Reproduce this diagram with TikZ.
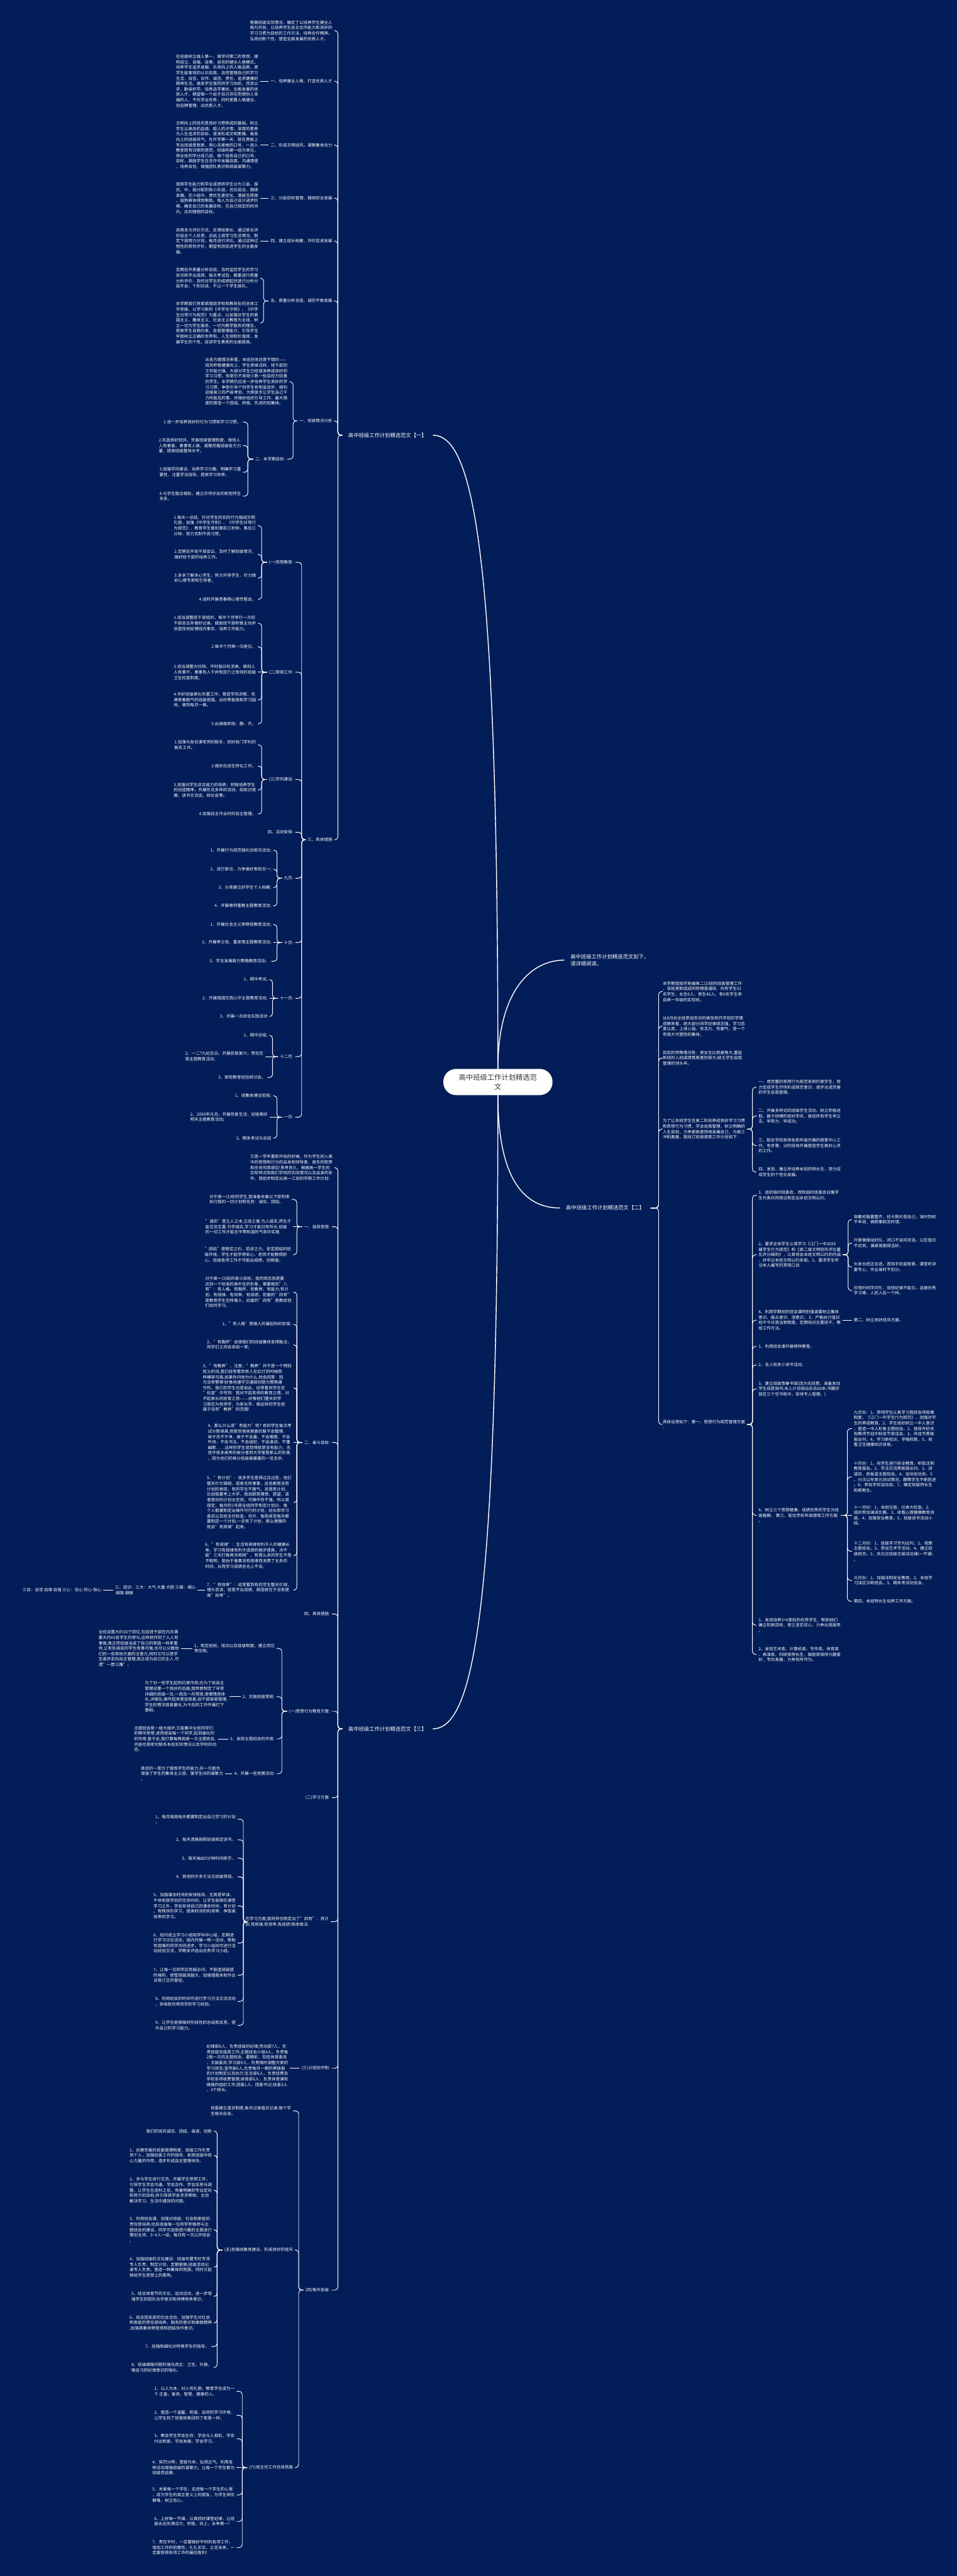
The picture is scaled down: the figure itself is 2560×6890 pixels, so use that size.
\documentclass[tikz,border=0pt]{standalone}
\usepackage{fontspec}
\setmainfont{Noto Sans CJK SC}
\definecolor{bgc}{HTML}{031D58}
\definecolor{rootink}{HTML}{333333}
\tikzset{
  txt/.style={font=\fontsize{11}{14.5}\selectfont, text=white, align=left, inner xsep=5pt, inner ysep=0pt},
  ltxt/.style={txt, anchor=east},
  rtxt/.style={txt, anchor=west},
  brl/.style={font=\fontsize{14}{19}\selectfont, text=white, align=left, inner xsep=16pt, inner ysep=0pt},
  rootbox/.style={fill=white, rounded corners=34pt, minimum width=292pt, minimum height=70pt, inner sep=0pt,
    font=\fontsize{19}{25}\selectfont, text=rootink, align=center},
  conn/.style={draw=white, line width=1.6pt, rounded corners=8pt},
  mainln/.style={draw=white, line width=2.4pt},
}
\newcommand\linkL[3]{\draw[conn] (#1.west) -- (#1.west -| #3) |- (#2.east);}
\newcommand\linkR[3]{\draw[conn] (#1.east) -- (#1.east -| #3) |- (#2.west);}
\newcommand\lineL[2]{\draw[conn] (#1.west) -- (#2.east);}
\newcommand\lineR[2]{\draw[conn] (#1.east) -- (#2.west);}
\begin{document}
\begin{tikzpicture}[x=1pt,y=-1pt]
\fill[bgc] (0,0) rectangle (2560,6890);
\useasboundingbox (0,0) rectangle (2560,6890);

% bracket x positions
\coordinate (kL1) at (904,0);
\coordinate (kA6) at (705,0);
\coordinate (kA7) at (784,0);
\coordinate (kC2) at (663,0);
\coordinate (kA8) at (807,0);
\coordinate (kE1) at (700,0);
\coordinate (kE5) at (741,0);
\coordinate (kE7) at (729,0);
\coordinate (kL3) at (904,0);
\coordinate (kN2) at (794,0);
\coordinate (kN5) at (754,0);
\coordinate (kN7) at (651,0);
\coordinate (kN9) at (799,0);
\coordinate (kV2) at (581,0);
\coordinate (kV3) at (648,0);
\coordinate (kR2) at (1762,0);
\coordinate (kY4) at (2013,0);
\coordinate (kAA2) at (2269,0);
\coordinate (kAA7) at (2267,0);

% root and main branches
\node[rootbox] (root) at (1332,2894) {高中班级工作计划精选范\\文};
\node[brl, anchor=east] (L1) at (1158,1164) {高中班级工作计划精选范文【一】};
\node[brl, anchor=east] (L3) at (1158,4624) {高中班级工作计划精选范文【三】};
\node[brl, anchor=west] (R1) at (1510,2568) {高中班级工作计划精选范文如下，\\请详细阅读。};
\node[brl, anchor=west] (R2) at (1498,3231) {高中班级工作计划精选范文【二】};
\draw[mainln] (L1.east) .. controls (1270,1164) and (1332,1500) .. (root.north);
\draw[mainln] (L3.east) .. controls (1270,4624) and (1332,4290) .. (root.south);
\draw[mainln] (root.north) .. controls (1332,2650) and (1420,2568) .. (R1.west);
\draw[mainln] (root.south) .. controls (1332,3150) and (1400,3231) .. (R2.west);

% ===== branch one =====
\node[ltxt] (a1) at (894,82) {根据班级实际情况，确定了以培养学生健全人\\格为宗旨，以培养学生自主合作能力和良好的\\学习习惯为目标的工作方法，培养合作精神，\\弘扬创新个性，塑造全面发展的优质人才。};
\node[ltxt] (a2) at (894,217) {一、培养健全人格，打造优质人才};
\node[ltxt] (a3) at (894,388) {二、形成文明班风，凝聚集体合力};
\node[ltxt] (a4) at (894,530) {三、分层目标管理，捆绑综合发展};
\node[ltxt] (a5) at (894,645) {四、建立成长档案，评价促进发展};
\node[ltxt] (a6) at (894,805) {五、质量分析总结，调控平衡发展};
\node[ltxt] (a7) at (894,1126) {一、班级情况分析};
\node[ltxt] (a8) at (894,2246) {三、具体措施};
\foreach \c in {a1,a2,a3,a4,a5,a6,a7,a8}{\linkL{L1}{\c}{kL1}}

\node[ltxt] (b2) at (696,217) {在班级树立做人第一，做学问第二的思想，建\\构自立、自强、自尊、自信的健全人格模式，\\培养学生追求卓越、乐观向上的人格品质，使\\学生能客观的认识自我，自觉管理自己的学习\\生活，自信、合作、诚信、责任，追求健康的\\精神生活。激发学生强烈的学习动机，孜孜以\\求，勤奋好学，培养品学兼优、全面发展的优\\质人才。期望做一个由于自己存在而使别人幸\\福的人，不仅学业优秀，同时更要人格健全。\\创品牌管理，出优质人才。};
\node[ltxt] (b3) at (696,388) {文明向上的班风是良好习惯养成的基础。树立\\学生以高尚的品德、超人的才情，深厚的素养\\为人生追求的目标，逐渐形成文明素雅、奋发\\向上的班级风气。在开学第一天，就在黑板上\\写出班级是我家，用心去爱她的口号，一进入\\教室就有归家的感觉。班级构建一组为单位，\\将全班同学分成几组，每个组有自己的口号、\\目标，鼓励学生在合作中发展自我，沟通情感\\，培养自信，增强团队意识和班级凝聚力。};
\node[ltxt] (b4) at (696,530) {按照学生能力和学业成绩将学生分为三层，按\\优、中、弱分配到各小队组，优化组合，捆绑\\发展。在小组中，使优生更优化，潜能生提高\\，弱势群体得到帮助。每人为自己设计进步阶\\梯，确定自己的发展目标，在自己规定的时间\\内，达到理想的目标。};
\node[ltxt] (b5) at (696,645) {采用多元评价方式，反馈给家长，通过家长评\\价结合个人反思，总结上周学习生活情况，制\\定下周努力计划，每月进行评比。通过这种过\\程性的质性评价，期望有效促进学生的全面发\\展。};
\node[ltxt] (b6a) at (696,744) {定期召开质量分析总结，及时监控学生的学习\\状况和学业成绩。每次考试后，都要进行质量\\分析评价，及时对学生的成绩起伏进行分析分\\层开会，个别访谈，不让一个学生掉队。};
\node[ltxt] (b6b) at (696,864) {本学期我们将紧紧围绕学校和教导处的总体工\\作思路，以学习新的《中学生守则》、《中学\\生日常行为规范》为重点，以加强对学生的爱\\国主义、集体主义、社会主义教育为主线，树\\立一切为学生服务，一切为教学服务的理念，\\提高学生自我约束，自我管理能力，引导学生\\牢固树立正确的世界观、人生观和价值观，发\\展学生的个性，促进学生素质的全面提高。};
\lineL{a2}{b2}
\lineL{a3}{b3}
\lineL{a4}{b4}
\lineL{a5}{b5}
\linkL{a6}{b6a}{kA6}
\linkL{a6}{b6b}{kA6}

\node[ltxt] (c1) at (774,1021) {从各方面情况来看，本班总体还是不错的——\\班风积极健康向上，学生思维活跃，班干部的\\工作能力强，大部分学生已经逐渐养成良好的\\学习习惯，但是仍不排除少数一些自控力较差\\的学生。本学期仍应进一步培养学生良好的学\\习习惯，争取引导个别学生有明显进步，顺利\\迎接高三的严峻考验。大胆放手让学生自己干\\力所能及的事，并做好组织引导工作，最大限\\度的营造一个团结、积极、先进的班集体。};
\node[ltxt] (c2) at (768,1228) {二、本学期目标:};
\linkL{a7}{c1}{kA7}
\linkL{a7}{c2}{kA7}
\node[ltxt] (d1) at (650,1129) {1.进一步培养良好的行为习惯和学习习惯。};
\node[ltxt] (d2) at (650,1192) {2.巩固良好班风，完善班级管理制度，做到人\\人有事做，事事有人做，凝聚挖掘班级各方力\\量，提高班级整体水平。};
\node[ltxt] (d3) at (650,1263) {3.加强学风建设，培养学习兴趣，明确学习重\\要性，注重学法指导，提高学习效率。};
\node[ltxt] (d4) at (650,1327) {4.与学生融洽相处，建立亦师亦友的新型师生\\关系。};
\foreach \c in {d1,d2,d3,d4}{\linkL{c2}{\c}{kC2}}

\node[ltxt] (e1) at (790,1504) {(一)思想教育:};
\node[ltxt] (e2) at (790,1798) {(二)常规工作:};
\node[ltxt] (e3) at (790,2085) {(三)学风建设:};
\node[ltxt] (e4) at (790,2226) {四、活动安排:};
\node[ltxt] (e5) at (790,2349) {九月:};
\node[ltxt] (e6) at (790,2521) {十月:};
\node[ltxt] (e7) at (790,2670) {十一月:};
\node[ltxt] (e8) at (790,2826) {十二月:};
\node[ltxt] (e9) at (790,2988) {一月:};
\foreach \c in {e1,e2,e3,e4,e5,e6,e7,e8,e9}{\linkL{a8}{\c}{kA8}}

\node[ltxt] (f1) at (690,1406) {1.每天一总结，针对学生的实际行为强调文明\\礼貌，加强《中学生守则》、《中学生日常行\\为规范》，教育学生做到事前三秒钟，事后三\\分钟，努力克制不良习惯。};
\node[ltxt] (f2) at (690,1483) {2.定期召开班干部会议，及时了解班级情况，\\做好班干部的培养工作。};
\node[ltxt] (f3) at (690,1546) {3.多多了解关心学生，努力开导学生，尽力做\\好心理专家和引导者。};
\node[ltxt] (f4) at (690,1603) {4.适时开展青春期心理专题会。};
\foreach \c in {f1,f2,f3,f4}{\linkL{e1}{\c}{kE1}}
\node[ltxt] (g1) at (690,1667) {1.适当调整班干部组织，每半个月举行一次班\\干部会议并做好记录。鼓励班干部积极主动并\\创造性地处理班内事务，培养工作能力。};
\node[ltxt] (g2) at (690,1730) {2.每半个月换一次座位。};
\node[ltxt] (g3) at (690,1798) {3.适当调整大扫除、平时值日轮流表，做到人\\人有事干，事事有人干并制定行之有效的班级\\卫生检查制度。};
\node[ltxt] (g4) at (690,1872) {4.作好班级美化布置工作，营造学风浓郁，充\\满青春朝气的班级氛围。出好黑板报和学习园\\地，做到每月一换。};
\node[ltxt] (g5) at (690,1936) {5.出操做到快、静、齐。};
\foreach \c in {g1,g2,g4,g5}{\linkL{e2}{\c}{kE1}}
\lineL{e2}{g3}
\node[ltxt] (h1) at (690,1992) {1.加强与各任课老师的联系，抓好各门学科的\\联系工作。};
\node[ltxt] (h2) at (690,2049) {2.做好后进生转化工作。};
\node[ltxt] (h3) at (690,2113) {3.加强对学生综合能力的培养，积极培养学生\\的创造精神，开展形式多样的活动，如知识竞\\赛、读书交流会、辩论会等。};
\node[ltxt] (h4) at (690,2177) {4.加强自主作业时的自主管理。};
\foreach \c in {h1,h2,h3,h4}{\linkL{e3}{\c}{kE1}}

\node[ltxt] (i1) at (731,2274) {1、开展行为规范强化训练月活动;};
\node[ltxt] (i2) at (731,2325) {2、进行家访，力争做好家校合一;};
\node[ltxt] (i3) at (731,2374) {3、分类建立好学生个人档案;};
\node[ltxt] (i4) at (731,2423) {4、开展尊师重教主题教育活动;};
\foreach \c in {i1,i2,i3,i4}{\linkL{e5}{\c}{kE5}}
\node[ltxt] (j1) at (731,2473) {1、开展社会主义荣辱观教育活动;};
\node[ltxt] (j2) at (731,2521) {2、开展孝父母、重亲情主题教育活动;};
\node[ltxt] (j3) at (726,2571) {3、学生发展毅力策略教育活动。};
\linkL{e6}{j1}{kE5}
\lineL{e6}{j2}
\linkL{e6}{j3}{kE5}
\node[ltxt] (k1) at (721,2620) {1、期中考试;};
\node[ltxt] (k2) at (721,2670) {2、开展祖国在我心中主题教育活动;};
\node[ltxt] (k3) at (721,2719) {3、开展一次综合实践活动};
\linkL{e7}{k1}{kE7}
\lineL{e7}{k2}
\linkL{e7}{k3}{kE7}
\node[ltxt] (l1) at (721,2769) {1、期中总结;};
\node[ltxt] (l2) at (710,2826) {2、一二?九纪念日，开展民族复兴，责任在\\我主题教育活动;};
\node[ltxt] (l3) at (716,2882) {3、家校教育经验研讨会。};
\linkL{e8}{l1}{kE7}
\lineL{e8}{l2}
\linkL{e8}{l3}{kE7}
\node[ltxt] (m1) at (731,2931) {1、班集体建设验收;};
\node[ltxt] (m2) at (721,2988) {2、20XX年元旦，开展热爱生活，迎接美好\\明天主题教育活动;};
\node[ltxt] (m3) at (731,3044) {3、期末考试与总结};
\linkL{e9}{m1}{kE5}
\lineL{e9}{m2}
\linkL{e9}{m3}{kE5}

% ===== branch three =====
\node[ltxt] (n1) at (895,3123) {又是一学年重新开始的时候，作为学生初入高\\中的思想和行为的启发和领导者，肩负的职责\\和任务何其艰巨!思考良久，根据高一学生的\\实际特点和我们学校的实际情况以及自身的条\\件，我初步制定出高一三班的学期工作计划：};
\node[ltxt] (n2) at (888,3281) {一、指导思想:};
\node[ltxt] (n3) at (888,3858) {二、奋斗目标:};
\node[ltxt] (n4) at (888,4317) {四、具体措施:};
\node[ltxt] (n5) at (888,4577) {(一)思想行为教育方面:};
\node[ltxt] (n6) at (888,4808) {(二)学习方面:};
\node[ltxt] (n7) at (885,5140) {在学习方面,我同样也制定出了"四有"：有计\\划,有规律,有效率,有成绩!具体做法:};
\node[ltxt] (n8) at (888,5532) {(三)分组协作制:};
\node[ltxt] (n9) at (888,6125) {(四)每天自省:};
\foreach \c in {n1,n2,n3,n4,n5,n6,n7,n8,n9}{\linkL{L3}{\c}{kL3}}

\node[ltxt] (o1) at (780,3208) {对于高一(3)班的学生,我准备本着以下原则来\\执行我的一切计划和任务：诚实、团结。};
\node[ltxt] (o2) at (784,3281) {"诚实"是立人之本,立班之基.为人诚实,师生才\\能互信互重.为学诚实,学习才能日有所长.班级\\的一切工作才能在平等和谐的气氛中实施.};
\node[ltxt] (o3) at (784,3356) {"团结"是稳定之石，前进之力。安定团结的班\\级环境，学生才能学得安心，老师才能教得舒\\心，班级各项工作才可能出成绩，创辉煌。};
\linkL{n2}{o1}{kN2}
\lineL{n2}{o2}
\linkL{n2}{o3}{kN2}

\node[ltxt] (p0) at (785,3456) {对于高一(3)班的奋斗目标，我的观念就是要\\达到一个标准的高中生的形象，需要做到"八\\有"：有人格、有胸怀、有教养、有能力;有计\\划、有规律、有效率、有成绩。前面的"四有"\\是教育学生怎样做人，后面的"四有"是教给他\\们如何学习。};
\node[ltxt] (p1) at (785,3542) {1、"有人格"是做人的最起码的标准;};
\node[ltxt] (p2) at (785,3597) {2、"有胸怀"会使我们的班级集体变得融洽，\\同学们之间会亲如一家;};
\node[ltxt] (p3) at (785,3712) {3、"有教养"，注意，"教养"并不是一个特别\\贬义的词,我们经常看到有人在红灯的时候照\\样横穿马路,如果你问他为什么,他会回答：因\\为没有警察!好像他遵守交通规则是为警察遵\\守的。我们的学生也是如此，经常看到学生在\\"检查"中写到：我对不起老师的教育之情，对\\不起家长的抚育之恩-{}-{}-{}-{}-{}-好像他们整天的学\\习是在为老师学，为家长学，像这样的学生就\\属于没有"教养"的范围!};
\node[ltxt] (p4) at (785,3858) {4、那么什么是"有能力"呢? 有的学生每次考\\试分数很高,但是到宿舍里面衣服不会整理，\\袜子洗不干净，被子不会叠，不会唱歌，不会\\吟诗，不会书法，不会组织，不会演讲，不懂\\幽默……这样的学生我觉得就是没有能力，无\\怪乎很多高考的高分者到大学里是那么的失落\\，因为他们的高分低能被暴露的一览无余;};
\node[ltxt] (p5) at (785,4019) {5、"有计划"：很多学生是得过且过型，他们\\整天忙忙碌碌，或者无所事事，这些都是没有\\计划的表现，有的学生不服气，说我有计划，\\比如我要考上大学，我说那是理想、愿望，或\\者是你的计划太空洞，可操作性不强。所以我\\规定，每月的1号是全班同学制定计划日，每\\个人都要制定出操作可行的计划，班长和学习\\委员以及班主任检查。另外，每周甚至每天都\\要制定一个计划;一旦有了计划，那么慢慢的\\就会"有规律"起来。};
\node[ltxt] (p6) at (785,4161) {6、"有规律"：生活有规律有利于人的健康长\\寿、学习有规律有利于成绩的稳步提高，决不\\能"三天打鱼两天晾网"，有那么多的学生不是\\不聪明，是由于做事没有规律而浪费了太多的\\时间，从而学习成绩总也上不去;};
\node[ltxt] (p7) at (785,4253) {7、"有效率"：经常看到有的学生整天忙碌，\\埋头苦读，就是不出成绩，原因就在于没有提\\高"效率"。};
\foreach \c in {p0,p1,p2,p3,p5,p6,p7}{\linkL{n3}{\c}{kN2}}
\lineL{n3}{p4}
\node[ltxt] (q1) at (529,4253) {三、班训：三大：大气 大量 大胆 三细：细心\\~细致 细微};
\node[ltxt] (q2) at (276,4253) {三自：自觉 自律 自强 三心：信心 热心 恒心};
\lineL{p7}{q1}
\lineL{q1}{q2}

\node[ltxt] (r1) at (740,4409) {1、制定班规，班训以及班级制度，建立岗位\\责任制。};
\node[ltxt] (r2) at (740,4538) {2、实施班级常规:};
\node[ltxt] (r3) at (740,4651) {3、发挥主题班会的作用:};
\node[ltxt] (r4) at (740,4744) {4、开展一些竞赛活动:};
\foreach \c in {r1,r2,r3,r4}{\linkL{n5}{\c}{kN5}}
\node[ltxt] (s1) at (484,4409) {全班设置大约30个岗位,包括班干部在内共需\\要大约65名学生的参与,这样就作到了人人有\\事做,真正把班级当成了自己的家庭一样来看\\待,让有些调皮的学生有事可做,也可以分散他\\们的一些其他方面的注意力,同时又可以使学\\生逐步走向自主管理,真正成为自己的主人.可\\谓"一箭三雕"。};
\node[ltxt] (s2) at (614,4538) {为了对一些学生起到约束作用,也为了给自主\\管理设置一个良好的后盾,我特意制定了非常\\详细的班级一日,一周及一月常规,使事情具体\\化,详细化,操作起来更加容易,班干部容易管理,\\学生的情况容易量化,为今后的工作开展打下\\基础。};
\node[ltxt] (s3) at (584,4651) {主题班会是一座大熔炉,它能集中全班同学们\\的精华思想,进而感染每一个同学,起到催化剂\\的作用.鉴于此,我打算每两周高一次主题班会,\\内容也是密切联系本班实际情况以及学校的动\\态。};
\node[ltxt] (s4) at (602,4744) {其目的一是为了锻炼学生的能力,另一方面也\\增强了学生的集体主义感。强学生间的凝聚力\\。};
\lineL{r1}{s1}
\lineL{r2}{s2}
\lineL{r3}{s3}
\lineL{r4}{s4}

\node[ltxt] (t1) at (636,4866) {1、每月每周每天都要制定出自己学习的计划\\。};
\node[ltxt] (t2) at (636,4921) {2、每天清晨按照班级规定读书。};
\node[ltxt] (t3) at (636,4970) {3、每天抽出5分钟时间练字。};
\node[ltxt] (t4) at (636,5020) {4、其他的许多方法见班级常规。};
\node[ltxt] (t5) at (636,5098) {5、加强课余时间的安排指导，尤其是早读、\\午休和放学后的空余时间，让学生能够在课堂\\学习之外，学会安排自己的课余时间，有计划\\、有秩序的学习，提高时间的利用率，争取高\\效率的学习。};
\node[ltxt] (t6) at (636,5197) {6、班内成立学习小组和学科中心组，定期进\\行学习讨论活动，组内开展一帮一活动，帮助\\有困难的同学共同进步，学习小组间可进行活\\动经验交流，学期末评选出优秀学习小组。};
\node[ltxt] (t7) at (636,5283) {7、让每一位同学应有疑必问，不能造成疑惑\\的堆积，使雪球越滚越大，加强错题本和作业\\试卷订正的督促。};
\node[ltxt] (t8) at (636,5353) {8、利用班会的时间可进行学习方法交流活动\\，多吸取优秀同学的学习经验。};
\node[ltxt] (t9) at (636,5417) {9、让学生能够做好阶段性的总结和反思，提\\升自己的学习能力。};
\foreach \c in {t1,t2,t3,t4,t5,t6,t7,t8,t9}{\linkL{n7}{\c}{kN7}}

\node[ltxt] (u1) at (776,5532) {纪律部8人，负责班级的纪律;劳动部7人，负\\责班级及值周工作;主题班会小组4人，负责每\\2周一次的主题班会，要精彩，包括体育委员\\，文娱委员;学习部9人，负责随时调整大家的\\学习状态;宣传部6人,负责每月一期的黑板报\\的计划制定以及执行;生活部6人，负责班费及\\学校各项收费管理;体育部6人，负责体育课和\\做操的组织工作;团委1人，团委书记;班委3人\\，3个班长。};
\lineL{n8}{u1}

\node[ltxt] (v1) at (784,5646) {班委建立值日制度,每天记录值日记录,每个学\\生每天自省。};
\node[ltxt] (v2) at (789,6018) {(五)加强班集体建设，形成良好的班风};
\node[ltxt] (v3) at (789,6600) {(六)班主任工作总体思路};
\foreach \c in {v1,v2,v3}{\linkL{n9}{\c}{kN9}}

\node[ltxt] (w0) at (572,5700) {我们的班风诚信、团结、奋进、创新};
\node[ltxt] (w1) at (572,5765) {1、创建完善的班委管理制度，班级工作负责\\到个人，加强班委工作的指导，发挥班级中核\\心力量的作用，逐步形成自主管理体系。};
\node[ltxt] (w2) at (572,5858) {2、多与学生进行交流，开展学生思想工作，\\引导学生学会沟通、学会合作、学会反思与调\\整，让学生在选科之后，有着明确的专业定向\\和努力的目标;并引导其学会寻求帮助，主动\\解决学习、生活中遇到的问题。};
\node[ltxt] (w3) at (572,5964) {3、利用班会课，加强对班级、社会和家庭的\\责任感培养;动员班级每一位同学积极参与主\\题班会的建设，同学可选取感兴趣的主题进行\\策划主持，3\textasciitilde 4人一组，每月有一次公开班会\\。};
\node[ltxt] (w4) at (572,6064) {4、加强班级的文化建设：班级布置专栏专项\\专人负责，制定计划，定期更换;班级活动记\\录专人负责。营造一种集体的氛围，同时又能\\够给学生思想上的熏陶。};
\node[ltxt] (w5) at (572,6142) {5、结合体育节的文化、运动活动，进一步增\\强学生的团队合作意识和拼搏竞争意识。};
\node[ltxt] (w6) at (572,6213) {6、结合团支部的社会活动，加强学生对社会\\和家庭的责任感培养，服务的意识和奉献精神\\;加强其集体荣誉感和团结协作意识。};
\node[ltxt] (w7) at (565,6276) {7、加强和细化对特殊学生的指导。};
\node[ltxt] (w8) at (572,6332) {8、班级细微问题的强化改正：卫生、升旗、\\晚自习的纪律意识的强化。};
\foreach \c in {w0,w1,w2,w3,w4,w5,w6,w7,w8}{\linkL{v2}{\c}{kV2}}

\node[ltxt] (x1) at (633,6396) {1、以人为本，对人有礼貌，教育学生成为一\\个 正直，善良，智慧，健康的人。};
\node[ltxt] (x2) at (633,6460) {2、营造一个温馨，和谐，自然的学习环境，\\让学生到了班里就象回到了家里一样。};
\node[ltxt] (x3) at (633,6523) {3、教会学生学会生存，学会与人相处，学会\\付出和爱。学会发展，学会学习。};
\node[ltxt] (x4) at (633,6600) {4、奖罚分明，宽容为本，弘扬正气。利用各\\种活动增强班级的凝聚力，让每一个学生都为\\班级而自豪。};
\node[ltxt] (x5) at (633,6673) {5、关爱每一个学生，走进每一个学生的心里\\，成为学生的真正意义上的朋友，为学生排忧\\解难，树立信心。};
\node[ltxt] (x6) at (633,6744) {6、上好每一节课，认真抓好课堂纪律，让班\\级永远充满活力，积极，向上，永争第一!};
\node[ltxt] (x7) at (633,6814) {7、贵在平时，一定要做好平时的各项工作，\\增加工作的前瞻性，扎扎实实，立足未来，一\\定要取得各项工作的最后胜利!};
\foreach \c in {x1,x2,x3,x5,x6,x7}{\linkL{v3}{\c}{kV3}}
\lineL{v3}{x4}

% ===== branch two =====
\node[rtxt] (y1) at (1768,2652) {本学期我接手新编高二(2)班的班级管理工作\\，该班是新组成的物理普通班，共有学生52\\名学生，女生6人，男生46人。有6名学生来\\自高一年级的实验班。};
\node[rtxt] (y2) at (1768,2745) {从8月份全班参加军训的表现和开学初的学情\\观察来看，绝大部分同学纪律观念强，学习态\\度认真，上进心强，有活力，有朝气，是一个\\有很大可塑性的集体。};
\node[rtxt] (y3) at (1768,2830) {目前的特殊情况有：男女生比例悬殊大;重组\\新班的入班成绩首尾差别很大;缺乏学生自我\\管理的领头羊。};
\node[rtxt] (y4) at (1768,3020) {为了让本班学生在高二阶段养成良好学习习惯\\和思想行为习惯，学会自我管理，树立明确的\\人生目标，力争更高更快地发展自己，为高三\\冲刺奠基，我拟订班级德育工作计划如下：};
\node[rtxt] (y5) at (1768,3810) {具体设想如下：第一、思想行为规范管理方面\\：};
\foreach \c in {y1,y2,y3,y4,y5}{\linkR{R2}{\c}{kR2}}

\node[rtxt] (z1) at (2024,2908) {一、用完整的思想行为规范条例约束学生，努\\力促成学生尽快形成规范意识，逐步达成完善\\的学生自我管理。};
\node[rtxt] (z2) at (2024,2985) {二、开展多样式的班级学生活动，树立积极进\\取、敢于拼搏的良好学风，敦促所有学生早立\\志、早努力、早成功。};
\node[rtxt] (z3) at (2024,3064) {三、配合学校政体处和年级开展的德育中心工\\作，有步骤、分阶段地开展塑造学生美好心灵\\的工作。};
\node[rtxt] (z4) at (2024,3135) {四、发现、确立并培养本班的特长生，努力促\\成学生的个性化发展。};
\foreach \c in {z1,z2,z3,z4}{\linkR{y4}{\c}{kY4}}

\node[rtxt] (aa1) at (2024,3197) {1、组织临时班委会，授权临时班委会召集学\\生代表共同商议制定出本班文明公约。};
\node[rtxt] (aa2) at (2024,3356) {2、要求全体学生认真学习《江门一中20XX\\届学生行为规范》和《高二级文明班风评比量\\化评分细则》，认真领会本班文明公约的内涵\\，并牢记本班文明公约条款。3、要求学生牢\\记本人编写的常规口诀};
\node[rtxt] (aa3) at (2024,3531) {4、利用学期初的班会课特别强调要树立集体\\意识、服从意识、涅意识。 5、严格执行值日\\班干今日我当家制度。定期培训主要班干，教\\给工作方法。};
\node[rtxt] (aa4) at (2024,3601) {1、利用班会课开展榜样教育。};
\node[rtxt] (aa5) at (2024,3651) {2、名人知多少读书活动;};
\node[rtxt] (aa6) at (2024,3715) {3、建立班级青春书架(因为无班费，准备发动\\学生自愿捐书;本人计划捐出杂志60本;书籍存\\放在三个空书柜中，安排专人管理。)};
\node[rtxt] (aa7) at (2024,4053) {4、树立三个思想健康、成绩优秀的学生为班\\级楷模。 第三、配合学校年级德育工作方面\\。};
\node[rtxt] (aa8) at (2024,4347) {1、发现培养3+X类别的优秀学生，帮助他们\\确立较高目标，使之坚定信心，力争出类拔萃\\。};
\node[rtxt] (aa9) at (2024,4425) {2、发现艺术类、计算机类、写作类、体育类\\、表演类、科研类特长生，鼓励其保持兴趣爱\\好，专向发展，力争有所作为。};
\foreach \c in {aa1,aa2,aa3,aa4,aa5,aa6,aa7,aa8,aa9}{\linkR{y5}{\c}{kY4}}

\node[rtxt] (ab1) at (2279,3262) {穿戴校服要整齐，校卡照片是自己。准时到校\\不早退，病假事假及时请。};
\node[rtxt] (ab2) at (2279,3325) {升旗做操站好队，闭口不谈闲言语。公区值日\\不迟到，课桌周围保洁好。};
\node[rtxt] (ab3) at (2279,3389) {头发长短正合适，首饰手机留家里。课堂听讲\\要专心，作业准时不扣分。};
\node[rtxt] (ab4) at (2279,3452) {珍惜时间学问忙，双修纪律不能忘。品德优秀\\学习棒，人前人后一个样。};
\foreach \c in {ab1,ab2,ab3,ab4}{\linkR{aa2}{\c}{kAA2}}
\node[rtxt] (ab5) at (2279,3531) {第二、树立良好班风方面。};
\lineR{aa3}{ab5}

\node[rtxt] (ac1) at (2279,3821) {九月份：1、带领学生认真学习我校各项规章\\制度，《江门一中学生行为规范》，加强对学\\生的养成教育。2、学生组织树立一中人意识\\，塑造一中人形象主题班会。2、指导开好庆\\祝教师节迎中秋佳节茶话会。3、庆佳节黑板\\报出刊。4、学习新校训，学唱校歌。5、收\\看卫生健康知识讲座。};
\node[rtxt] (ac2) at (2279,3950) {十月份：1、向学生进行安全教育，听取法制\\教育报告。2、学法交流黑板报出刊。3、讲\\诚信，拒偷盗主题班会。4、运动会动员。5\\、分次公布单元测试情况，鞭策学生不断前进\\。6、参加学校运动会。7、确定班级特长生\\和帮教生。};
\node[rtxt] (ac3) at (2279,4053) {十一月份：1、本班仪容、仪表大检查。2、\\组织参加演讲比赛。3、收看心理健康教育讲\\座。4、加强安全教育。5、班级读书活动小\\结。};
\node[rtxt] (ac4) at (2279,4149) {十二月份：1、班级学习专刊出刊。2、观摩\\主题班会。3、参加艺术节活动。4、建立班\\级网页。5、庆元旦班级文娱活动课(一节课)\\。};
\node[rtxt] (ac5) at (2279,4227) {元月份：1、加强法制安全教育。2、本班学\\习误区诊断班会。3、期末考试动员会。};
\node[rtxt] (ac6) at (2279,4283) {第四、本班特长生培养工作方面。};
\foreach \c in {ac1,ac2,ac4,ac5,ac6}{\linkR{aa7}{\c}{kAA7}}
\lineR{aa7}{ac3}
\end{tikzpicture}
\end{document}
